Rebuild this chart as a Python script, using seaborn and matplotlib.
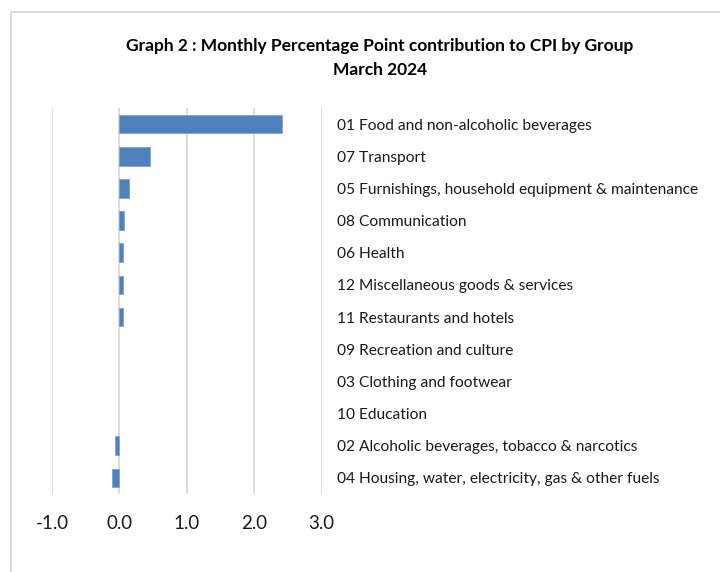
import matplotlib
matplotlib.use("Agg")
import matplotlib.pyplot as plt
import seaborn as sns
import pandas as pd
from matplotlib.patches import Rectangle

categories = [
    "01 Food and non-alcoholic beverages",
    "07 Transport",
    "05 Furnishings, household equipment & maintenance",
    "08 Communication",
    "06 Health",
    "12 Miscellaneous goods & services",
    "11 Restaurants and hotels",
    "09 Recreation and culture",
    "03 Clothing and footwear",
    "10 Education",
    "02 Alcoholic beverages, tobacco & narcotics",
    "04 Housing, water, electricity, gas & other fuels",
]
values = [2.42, 0.45, 0.14, 0.07, 0.05, 0.05, 0.05, 0.0, 0.0, 0.0, -0.07, -0.11]
x_ticks = [-1.0, 0.0, 1.0, 2.0, 3.0]
x_tick_labels = ["-1.0", "0.0", "1.0", "2.0", "3.0"]
title = "Graph 2 : Monthly Percentage Point contribution to CPI by Group\nMarch 2024"

sns.set_theme(style="white")
plt.rcParams["font.family"] = ["Lato", "DejaVu Sans"]

df = pd.DataFrame({"category": categories, "value": values})

fig = plt.figure(figsize=(7.2, 5.72), dpi=100)
W, H = 720, 572
ax = fig.add_axes([52 / W, 1 - 494 / H, (321.5 - 52) / W, (494 - 108) / H])

sns.barplot(data=df, x="value", y="category", orient="h", color="#4F81BD",
            saturation=1, width=0.58, edgecolor="#7FA3D0", linewidth=0.6, ax=ax)
for p in ax.patches:
    if abs(p.get_width()) < 1e-9:
        p.set_linewidth(0)
        p.set_visible(False)

ax.set_xlim(-1, 3)
ax.set_xticks(x_ticks)
ax.set_xticklabels(x_tick_labels, fontsize=13.5, color="#1a1a1a")
ax.xaxis.grid(True, color="#d9d9d9", linewidth=1.3)
ax.set_axisbelow(True)
ax.yaxis.tick_right()
ax.tick_params(axis="y", length=0, pad=11, labelsize=11.2, labelcolor="#1a1a1a")
ax.tick_params(axis="x", length=0, pad=15)
for s in ax.spines.values():
    s.set_visible(False)
ax.set_xlabel("")
ax.set_ylabel("")

fig.text(380 / W, 1 - 58 / H, title, ha="center", va="center",
         fontsize=12.5, fontweight="bold", color="#000000", linespacing=1.65)

border = Rectangle((10.5 / W, -0.1), 1.0, 1 - 12 / H + 0.1, transform=fig.transFigure,
                   fill=False, edgecolor="#d9d9d9", linewidth=1.3)
fig.add_artist(border)

fig.savefig("out.png", dpi=100)
